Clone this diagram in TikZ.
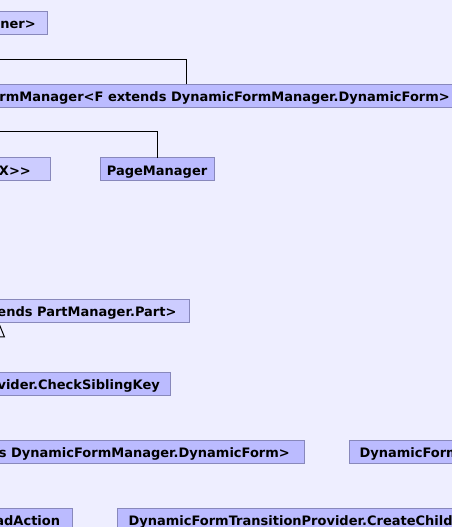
\documentclass[tikz,border=0pt]{standalone}
\usepackage{fontspec}
\setmainfont{DejaVu Sans}[Ligatures=TeXOff]
\usetikzlibrary{arrows.meta}
\definecolor{bg}{HTML}{EEEEFF}
\definecolor{cls}{HTML}{BBBBFF}
\definecolor{ifc}{HTML}{CCCCFF}
\definecolor{bd}{HTML}{8888BB}
\begin{document}
\begin{tikzpicture}[x=1bp,y=-1bp,
  box/.style={draw=bd, fill=cls, line width=1bp, minimum height=23bp, inner sep=0pt, outer sep=0pt},
  light/.style={box, fill=ifc},
  lbl/.style={inner sep=0pt, font=\bfseries\fontsize{13bp}{15bp}\selectfont},
  link/.style={draw=black, line width=1bp}]
\useasboundingbox (0,0) rectangle (452,527);
\fill[bg] (0,0) rectangle (452,527);
\clip (0,0) rectangle (452,527);

% boxes
\node[light, minimum width=120bp, anchor=north east] (owner) at (47.7,11.3) {};
\node[box, minimum width=600bp, anchor=north east] (fm) at (462,84.3) {};
\node[light, minimum width=120bp, anchor=north east] (ix) at (50,157.7) {};
\node[box, minimum width=113.3bp, anchor=north west] (pm) at (100.7,157.7) {};
\node[light, minimum width=260bp, anchor=north east] (part) at (189,299.3) {};
\node[box, minimum width=260bp, anchor=north east] (csk) at (170.7,372.3) {};
\node[box, minimum width=400bp, anchor=north east] (dfm) at (304.3,440.3) {};
\node[box, minimum width=200bp, anchor=north west] (df) at (349.3,440.3) {};
\node[box, minimum width=200bp, anchor=north east] (la) at (72.7,508.3) {};
\node[box, minimum width=400bp, anchor=north west] (cc) at (117.3,508.3) {};

% texts
\node[lbl, anchor=base east] (ownerT) at (36,28.7) {wner>};
\node[lbl, anchor=base east] (fmT) at (450,101.7) {rmManager<F extends DynamicFormManager.DynamicForm>};
\node[lbl, anchor=base east] (ixT) at (31,175.1) {X>>};
\node[lbl, anchor=base west] (pmT) at (106.7,175.1) {PageManager};
\node[lbl, anchor=base east] (partT) at (176.7,316.7) {ends PartManager.Part>};
\node[lbl, anchor=base east] (cskT) at (160,389.7) {vider.CheckSiblingKey};
\node[lbl, anchor=base east] (dfmT) at (290,457.7) {s DynamicFormManager.DynamicForm>};
\node[lbl, anchor=base west] (dfT) at (359.3,457.7) {DynamicForm};
\node[lbl, anchor=base east] (laT) at (60.3,525.7) {adAction};
\node[lbl, anchor=base west] (ccT) at (128.3,525.7) {DynamicFormTransitionProvider.CreateChild};

% connectors
\coordinate (x186) at (186,0);
\coordinate (j1) at (-20,59.5);
\coordinate (j2) at (-20,132);
\coordinate (t) at (-1,360);
\draw[link] (x186 |- fm.north) |- (j1);
\draw[link] (pm.north) |- (j2);
\draw[link, -{Triangle[open, length=15bp, width=12bp]}] (t) -- (t |- part.south);
\end{tikzpicture}
\end{document}
